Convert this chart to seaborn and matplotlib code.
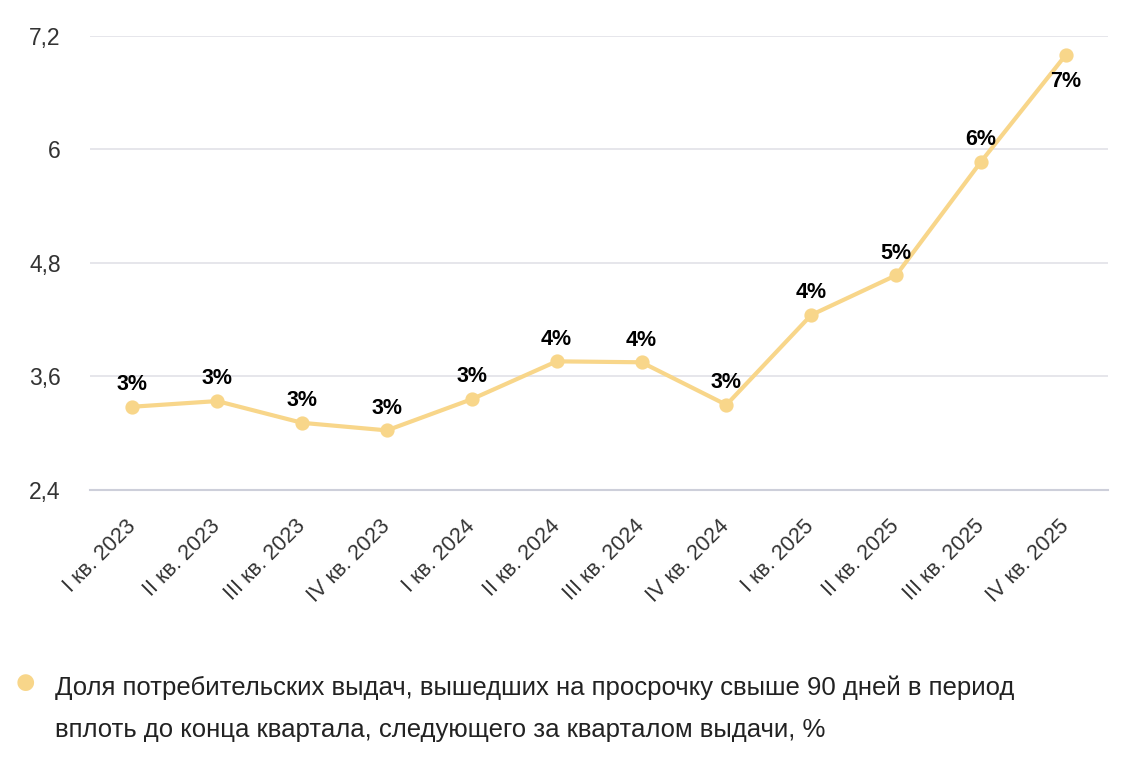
import pandas as pd
import matplotlib.pyplot as plt
import seaborn as sns

# data
quarters = ["I кв. 2023", "II кв. 2023", "III кв. 2023", "IV кв. 2023",
            "I кв. 2024", "II кв. 2024", "III кв. 2024", "IV кв. 2024",
            "I кв. 2025", "II кв. 2025", "III кв. 2025", "IV кв. 2025"]
share = [3.28, 3.34, 3.11, 3.03, 3.36, 3.76, 3.75, 3.30, 4.25, 4.67, 5.87, 7.0]
point_labels = ["3%", "3%", "3%", "3%", "3%", "4%", "4%", "3%", "4%", "5%", "6%", "7%"]
y_ticks = [2.4, 3.6, 4.8, 6.0, 7.2]
y_ticklabels = ["2,4", "3,6", "4,8", "6", "7,2"]
legend_text = ("Доля потребительских выдач, вышедших на просрочку свыше 90 дней в период\n"
               "вплоть до конца квартала, следующего за кварталом выдачи, %")

df = pd.DataFrame({"quarter": quarters, "share": share})

sns.set_style("white")
plt.rcParams['font.family'] = ['Liberation Sans', 'DejaVu Sans']

line_color = "#F8D68A"

fig = plt.figure(figsize=(11.24, 7.65), dpi=100)
ax = fig.add_axes([0.080, 0.3595, 0.906, 0.5935])

sns.pointplot(data=df, x="quarter", y="share", order=quarters,
              color=line_color, markersize=8, linewidth=3, ax=ax)

# value labels
for i, (v, lab) in enumerate(zip(share, point_labels)):
    dy = -19 if i == len(share) - 1 else 16
    ax.annotate(lab, (i, v), xytext=(0, dy), textcoords="offset points",
                ha="center", va="center", fontsize=15.5, fontweight="bold",
                color="black")

ax.set_xlim(-0.5, len(quarters) - 0.5)
ax.set_ylim(2.4, 7.2)
ax.set_yticks(y_ticks)
ax.set_yticklabels(y_ticklabels, fontsize=16.5, color="#333333")
ax.set_xticks(range(len(quarters)))
ax.set_xticklabels(quarters, rotation=45, ha="right", va="center",
                   rotation_mode="anchor", fontsize=15.5, color="#333333")
ax.tick_params(axis="y", length=0, pad=21)
ax.tick_params(axis="x", length=0, pad=24)
ax.set_xlabel("")
ax.set_ylabel("")

ax.grid(axis="y", color="#E2E2E8", linewidth=1.2)
ax.set_axisbelow(True)
for s in ["top", "right", "left"]:
    ax.spines[s].set_visible(False)
ax.spines["bottom"].set_color("#CDCFDA")
ax.spines["bottom"].set_linewidth(1.5)

# legend drawn below the chart
fig.text(25 / 1124, 1 - 684 / 765, "●", fontsize=28, color=line_color,
         ha="center", va="center")
fig.text(55 / 1124, 1 - 709 / 765, legend_text, fontsize=18.5, color="#222222",
         ha="left", va="center", linespacing=1.95)

fig.savefig("out.png", dpi=100, facecolor="white")
